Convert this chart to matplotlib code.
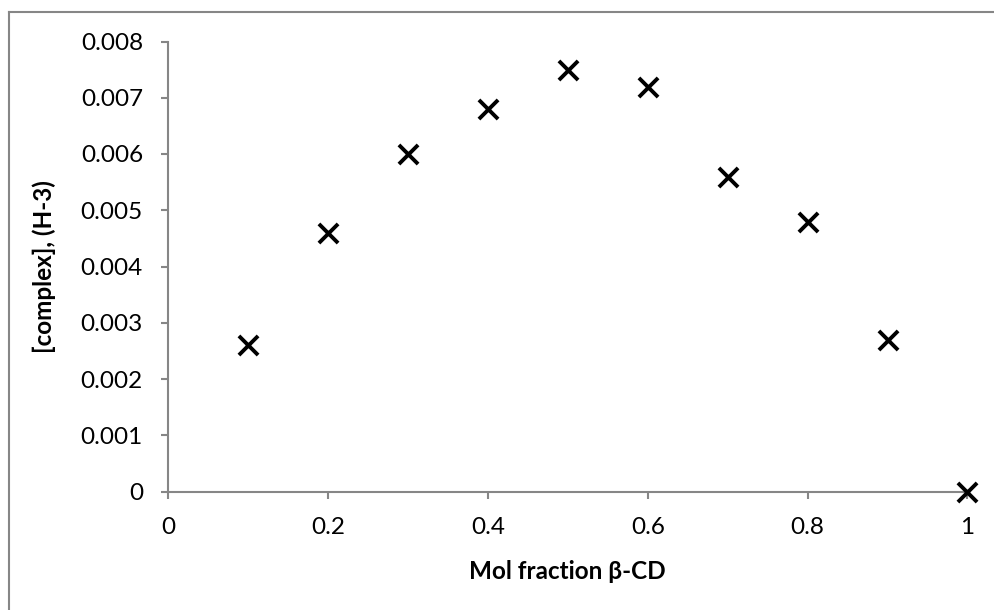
import matplotlib
matplotlib.use("Agg")
import matplotlib.pyplot as plt
from matplotlib.lines import Line2D

x_vals = [0.1, 0.2, 0.3, 0.4, 0.5, 0.6, 0.7, 0.8, 0.9, 1.0]
y_vals = [0.0026, 0.0046, 0.0060, 0.0068, 0.0075, 0.0072, 0.0056, 0.0048, 0.0027, 0.0]
x_ticks = [0, 0.2, 0.4, 0.6, 0.8, 1]
x_labels = ["0", "0.2", "0.4", "0.6", "0.8", "1"]
y_ticks = [0, 0.001, 0.002, 0.003, 0.004, 0.005, 0.006, 0.007, 0.008]
y_labels = ["0", "0.001", "0.002", "0.003", "0.004", "0.005", "0.006", "0.007", "0.008"]

plt.rcParams['font.family'] = ['Lato', 'DejaVu Sans']

W, H = 995, 610
fig = plt.figure(figsize=(W/100, H/100), dpi=100)
ax = fig.add_axes([168/W, 1-491.5/H, (967.5-168)/W, (491.5-41.5)/H])

ax.scatter(x_vals, y_vals, marker='x', s=190, color='black', linewidths=2.8, zorder=3, clip_on=False)

ax.set_xlim(0, 1)
ax.set_ylim(0, 0.008)
ax.set_xticks(x_ticks)
ax.set_xticklabels(x_labels)
ax.set_yticks(y_ticks)
ax.set_yticklabels(y_labels)

for s in ['top', 'right']:
    ax.spines[s].set_visible(False)
for s in ['left', 'bottom']:
    ax.spines[s].set_color('#868686')
    ax.spines[s].set_linewidth(1.5)
ax.tick_params(axis='both', direction='out', length=5, width=1.5, color='#868686',
               labelsize=17.5, labelcolor='black')
ax.tick_params(axis='x', pad=13)
ax.tick_params(axis='y', pad=13)

ax.set_xlabel('Mol fraction β-CD', fontsize=17.5, fontweight='bold', labelpad=16)
ax.set_ylabel('[complex], (H-3)', fontsize=17.5, fontweight='bold', labelpad=18)

# outer chart border (left and top visible)
fig.add_artist(Line2D([8.5/W, 8.5/W], [0, 1-11.5/H], transform=fig.transFigure, color='#868686', lw=1.5))
fig.add_artist(Line2D([8.5/W, 1], [1-11.5/H, 1-11.5/H], transform=fig.transFigure, color='#868686', lw=1.5))

fig.savefig('out.png', dpi=100)
